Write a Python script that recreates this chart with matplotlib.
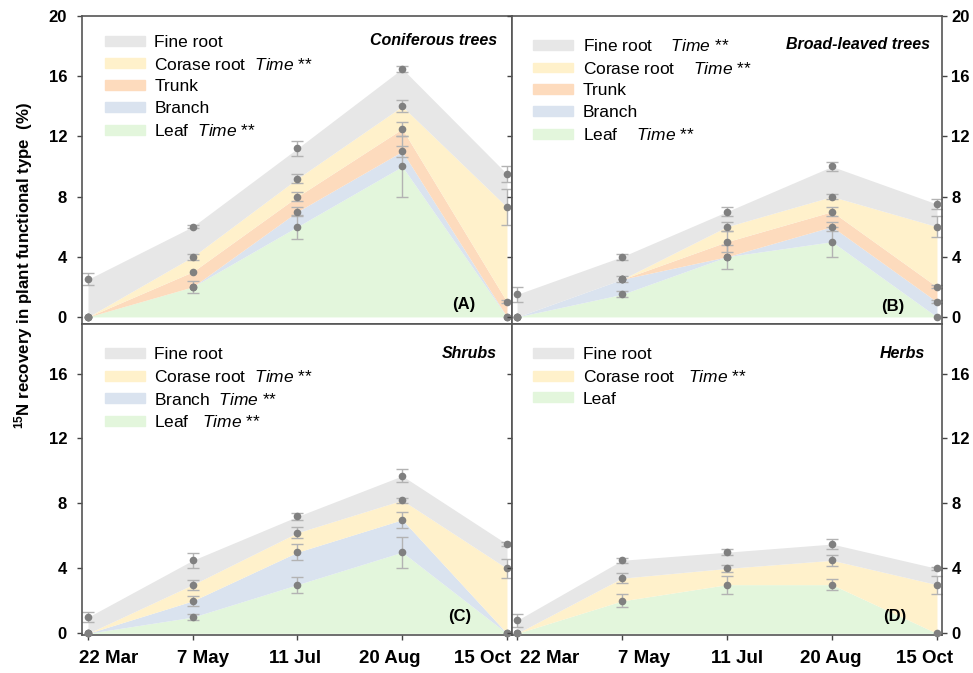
import numpy as np
import matplotlib.pyplot as plt
from matplotlib.patches import Patch

plt.rcParams['font.family'] = ['Liberation Sans', 'DejaVu Sans']
plt.rcParams['mathtext.fontset'] = 'custom'
plt.rcParams['mathtext.rm'] = 'Liberation Sans'
plt.rcParams['mathtext.it'] = 'Liberation Sans:italic'
plt.rcParams['mathtext.bf'] = 'Liberation Sans:bold'

dates = ['22 Mar', '7 May', '11 Jul', '20 Aug', '15 Oct']

# cumulative (stacked) tops: leaf at the bottom, fine root on top
# (A) coniferous trees
con_leaf = [0, 2.0, 6.0, 10.0, 0]
con_branch = [0, 2.0, 7.0, 11.0, 0]
con_trunk = [0, 3.0, 8.0, 12.5, 1.0]
con_coarse = [0, 4.0, 9.2, 14.0, 7.3]
con_fine = [2.5, 6.0, 11.2, 16.5, 9.5]
con_leaf_se = [0, 0.4, 0.8, 2.0, 0]
con_branch_se = [0, 0, 0.3, 0.35, 0]
con_trunk_se = [0, 0, 0.3, 0.45, 0.1]
con_coarse_se = [0, 0.2, 0.3, 0.4, 1.2]
con_fine_se = [0.4, 0.1, 0.5, 0.2, 0.5]

# (B) broad-leaved trees
bro_leaf = [0, 1.5, 4.0, 5.0, 0]
bro_branch = [0, 2.5, 4.0, 6.0, 1.0]
bro_trunk = [0, 2.5, 5.0, 7.0, 2.0]
bro_coarse = [0, 2.5, 6.0, 8.0, 6.0]
bro_fine = [1.5, 4.0, 7.0, 10.0, 7.5]
bro_leaf_se = [0, 0.2, 0.8, 1.0, 0]
bro_branch_se = [0, 0.2, 0, 0.3, 0.1]
bro_trunk_se = [0, 0, 0.7, 0.3, 0.1]
bro_coarse_se = [0, 0, 0.3, 0.15, 0.7]
bro_fine_se = [0.5, 0.2, 0.3, 0.3, 0.35]

# (C) shrubs
shr_leaf = [0, 1.0, 3.0, 5.0, 0]
shr_branch = [0, 2.0, 5.0, 7.0, 0]
shr_coarse = [0, 3.0, 6.2, 8.2, 4.0]
shr_fine = [1.0, 4.5, 7.2, 9.7, 5.5]
shr_leaf_se = [0, 0.2, 0.5, 0.95, 0]
shr_branch_se = [0, 0.3, 0.5, 0.5, 0]
shr_coarse_se = [0, 0.3, 0.35, 0.15, 0.6]
shr_fine_se = [0.3, 0.45, 0.2, 0.4, 0.15]

# (D) herbs
her_leaf = [0, 2.0, 3.0, 3.0, 0]
her_coarse = [0, 3.4, 4.0, 4.5, 3.0]
her_fine = [0.8, 4.5, 5.0, 5.5, 4.0]
her_leaf_se = [0, 0.4, 0.55, 0.35, 0]
her_coarse_se = [0, 0.3, 0.2, 0.35, 0.55]
her_fine_se = [0.4, 0.15, 0.2, 0.3, 0.1]

c_fine = '#e7e7e7'
c_coarse = '#fff1cb'
c_trunk = '#fddbbd'
c_branch = '#dae3ef'
c_leaf = '#e3f6dc'

frame_col = '#555555'
TI = r'$\mathit{Time}$ **'


def panel(ax, layers, labels, title, tag, side, bottom, ylim, yticks, leg_anchor, title_pos, tag_pos, lab_pos, xlim):
    x = np.arange(len(dates))
    base = np.zeros(len(x))
    for top, se, col in layers:
        top = np.array(top, float)
        ax.fill_between(x, base, top, color=col, lw=0, zorder=1)
        base = top
    for top, se, col in layers:
        top = np.array(top, float)
        se = np.array(se, float)
        m = se > 0
        ax.errorbar(x[m], top[m], yerr=se[m], fmt='none', ecolor='#b3b3b3',
                    elinewidth=1, capsize=4, capthick=1, zorder=2)
        ax.plot(x, top, 'o', color='#808080', ms=5.5, mec='none', zorder=3, clip_on=False)

    ax.set_xlim(*xlim)
    ax.set_ylim(*ylim)
    ax.set_yticks(yticks)
    for s in ax.spines.values():
        s.set_color(frame_col)
        s.set_linewidth(1.2)

    if side == 'left':
        ax.tick_params(axis='y', which='major', left=True, right=False, labelleft=True,
                       direction='out', length=3.8, width=1, color='#444444', pad=7, labelsize=12)
    else:
        ax.tick_params(axis='y', which='major', left=True, right=True, labelleft=False,
                       labelright=True, direction='out', length=3.8, width=1, color='#444444',
                       pad=3, labelsize=12)
    for t in ax.get_yticklabels():
        t.set_fontweight('bold')

    ax.set_xticks(x)
    ax.set_xticklabels([''] * len(x))
    if bottom:
        ax.tick_params(axis='x', which='major', bottom=True, direction='out', length=3.8,
                       width=1, color='#444444')
        ax.set_xticks(lab_pos, minor=True)
        ax.set_xticklabels(dates, minor=True)
        ax.tick_params(axis='x', which='minor', length=0, pad=11, labelsize=13.5)
        for t in ax.get_xticklabels(minor=True):
            t.set_fontweight('bold')
    else:
        ax.tick_params(axis='x', which='both', bottom=False, labelbottom=False)

    handles = [Patch(color=c) for _, _, c in layers][::-1]
    ax.legend(handles, labels, loc='upper left', bbox_to_anchor=leg_anchor, frameon=False,
              fontsize=12.5, handlelength=2.3, handleheight=0.5, handletextpad=0.55,
              labelspacing=0.39, borderpad=0, borderaxespad=0)

    ax.text(title_pos[0], title_pos[1], title, transform=ax.transAxes, ha='right', va='center',
            fontsize=11.5, fontweight='bold', style='italic')
    ax.text(tag_pos[0], tag_pos[1], tag, transform=ax.transAxes, ha='center', va='center',
            fontsize=12, fontweight='bold')


fig = plt.figure(figsize=(9.73, 6.73), dpi=100)
W, H = 973.0, 673.0
ax_a = fig.add_axes([82 / W, 1 - 324 / H, 430 / W, 308 / H])
ax_b = fig.add_axes([512 / W, 1 - 324 / H, 430 / W, 308 / H])
ax_c = fig.add_axes([82 / W, 1 - 635 / H, 430 / W, 311 / H])
ax_d = fig.add_axes([512 / W, 1 - 635 / H, 430 / W, 311 / H])

lab_left = [0.196, 1.098, 1.981, 2.878, 3.766]
lab_right = [0.314, 1.214, 2.095, 2.990, 3.881]
top_ylim = (-0.47, 20)
bot_ylim = (-0.1, 19.05)

panel(ax_a,
      [(con_leaf, con_leaf_se, c_leaf), (con_branch, con_branch_se, c_branch),
       (con_trunk, con_trunk_se, c_trunk), (con_coarse, con_coarse_se, c_coarse),
       (con_fine, con_fine_se, c_fine)],
      ['Fine root', 'Corase root  ' + TI, 'Trunk', 'Branch', 'Leaf  ' + TI],
      'Coniferous trees', '(A)', 'left', False, top_ylim, [0, 4, 8, 12, 16, 20],
      (0.0535, 0.939), (0.965, 0.919), (0.888, 0.062), lab_left, (-0.057, 4.048))

panel(ax_b,
      [(bro_leaf, bro_leaf_se, c_leaf), (bro_branch, bro_branch_se, c_branch),
       (bro_trunk, bro_trunk_se, c_trunk), (bro_coarse, bro_coarse_se, c_coarse),
       (bro_fine, bro_fine_se, c_fine)],
      ['Fine root    ' + TI, 'Corase root    ' + TI, 'Trunk', 'Branch', 'Leaf    ' + TI],
      'Broad-leaved trees', '(B)', 'right', False, top_ylim, [0, 4, 8, 12, 16, 20],
      (0.049, 0.929), (0.972, 0.909), (0.886, 0.058), lab_right, (-0.048, 4.048))

panel(ax_c,
      [(shr_leaf, shr_leaf_se, c_leaf), (shr_branch, shr_branch_se, c_branch),
       (shr_coarse, shr_coarse_se, c_coarse), (shr_fine, shr_fine_se, c_fine)],
      ['Fine root', 'Corase root  ' + TI, 'Branch  ' + TI, 'Leaf   ' + TI],
      'Shrubs', '(C)', 'left', True, bot_ylim, [0, 4, 8, 12, 16],
      (0.0535, 0.926), (0.965, 0.904), (0.879, 0.058), lab_left, (-0.057, 4.048))

panel(ax_d,
      [(her_leaf, her_leaf_se, c_leaf), (her_coarse, her_coarse_se, c_coarse),
       (her_fine, her_fine_se, c_fine)],
      ['Fine root', 'Corase root   ' + TI, 'Leaf'],
      'Herbs', '(D)', 'right', True, bot_ylim, [0, 4, 8, 12, 16],
      (0.049, 0.926), (0.960, 0.904), (0.891, 0.058), lab_right, (-0.048, 4.048))

fig.text(0.024, 0.606, r'$^{\mathbf{15}}$N recovery in plant functional type  (%)',
         rotation=90, ha='center', va='center', fontsize=12.2, fontweight='bold')

fig.savefig('out.png', dpi=100)
